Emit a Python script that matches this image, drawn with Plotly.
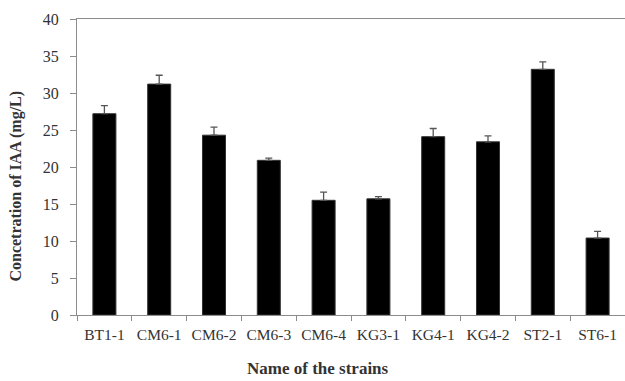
import plotly.graph_objects as go

strains = ["BT1-1", "CM6-1", "CM6-2", "CM6-3", "CM6-4", "KG3-1", "KG4-1", "KG4-2", "ST2-1", "ST6-1"]
iaa = [27.2, 31.2, 24.3, 20.9, 15.5, 15.7, 24.1, 23.4, 33.2, 10.4]
err = [1.1, 1.2, 1.1, 0.3, 1.1, 0.3, 1.1, 0.8, 1.0, 0.9]
y_ticks = [0, 5, 10, 15, 20, 25, 30, 35, 40]

font_family = "Liberation Serif, Times New Roman, serif"

fig = go.Figure(go.Bar(
    x=strains, y=iaa,
    marker=dict(color="black", line=dict(color="#333333", width=1)),
    error_y=dict(type="data", array=err, arrayminus=[0] * len(err), symmetric=False,
                 color="#555555", thickness=1.3, width=3.5),
    width=0.42,
))

fig.update_layout(
    width=625, height=381,
    margin=dict(l=77, r=0, t=19, b=66),
    plot_bgcolor="white", paper_bgcolor="white",
    font=dict(family=font_family, size=16, color="#333333"),
    showlegend=False,
    xaxis=dict(
        showline=True, linecolor="#8c8c8c", linewidth=1.3, mirror=True,
        ticks="outside", tickson="boundaries", ticklen=5, tickcolor="#8c8c8c",
        tickfont=dict(size=15.5, color="#333333"), tickangle=0, automargin=False,
        ticklabeloverflow="allow", ticklabelstandoff=5,
        showgrid=False,
    ),
    yaxis=dict(
        range=[0, 40], tickvals=y_ticks,
        showline=True, linecolor="#8c8c8c", linewidth=1.3,
        ticks="outside", ticklen=6, tickcolor="#8c8c8c", ticklabelstandoff=8,
        tickfont=dict(size=16, color="#333333"), automargin=False,
        showgrid=False, zeroline=False,
    ),
    annotations=[
        dict(text="<b>Concetration of IAA (mg/L)</b>", xref="paper", yref="paper",
             x=-0.112, y=0.436, textangle=-90, showarrow=False,
             font=dict(size=16, color="#333333", family=font_family),
             xanchor="center", yanchor="middle"),
        dict(text="<b>Name of the strains</b>", xref="paper", yref="paper",
             x=0.44, y=-0.221, showarrow=False,
             font=dict(size=17, color="#333333", family=font_family),
             xanchor="center", yanchor="bottom"),
    ],
)

fig.write_html("out.html", config={"displayModeBar": False},
               post_script="document.body.style.margin='0px';")
